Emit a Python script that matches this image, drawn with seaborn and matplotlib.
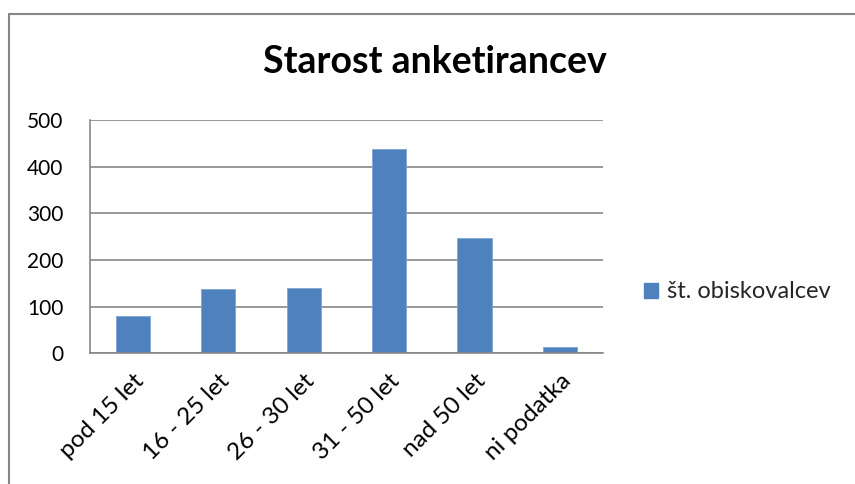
import matplotlib
matplotlib.use("Agg")
import matplotlib.pyplot as plt
import seaborn as sns
import pandas as pd
from matplotlib.lines import Line2D
from matplotlib.patches import Patch

# data
categories = ["pod 15 let", "16 - 25 let", "26 - 30 let", "31 - 50 let", "nad 50 let", "ni podatka"]
visitors = [80, 138, 140, 437, 247, 13]
series_name = "št. obiskovalcev"

df = pd.DataFrame({"starost": categories, "obiskovalci": visitors})

sns.set_style("white")
plt.rcParams["font.family"] = ["Lato", "DejaVu Sans"]

bar_color = "#4F81BD"
grid_color = "#878787"

fig = plt.figure(figsize=(8.55, 4.84), dpi=100)
ax = fig.add_axes([90 / 855, 1 - 353.3 / 484, (602.7 - 90) / 855, (353.3 - 120) / 484])

sns.barplot(data=df, x="starost", y="obiskovalci", color=bar_color,
            width=0.4, saturation=1, ax=ax, edgecolor="#7FA5D6", linewidth=0.6)

ax.set_xlim(-0.5, len(categories) - 0.5)
ax.set_ylim(0, 500)
ax.set_yticks(range(0, 501, 100))
ax.set_xlabel("")
ax.set_ylabel("")

# gridlines + axes look
ax.grid(axis="y", color=grid_color, linewidth=1.2)
ax.set_axisbelow(True)
for s in ["top", "right"]:
    ax.spines[s].set_visible(False)
for s in ["left", "bottom"]:
    ax.spines[s].set_color(grid_color)
    ax.spines[s].set_linewidth(1.2)

# tick marks between categories
ax.set_xticks([i - 0.5 for i in range(len(categories) + 1)], minor=True)
ax.tick_params(axis="x", which="major", length=0, pad=12)
ax.tick_params(axis="x", which="minor", length=6, width=1.2, color=grid_color, direction="out")
ax.tick_params(axis="y", length=6, width=1.2, color=grid_color, direction="out", pad=13,
               labelsize=15, labelcolor="black")
ax.set_xticks(range(len(categories)))
ax.set_xticklabels(categories, rotation=45, ha="right", rotation_mode="anchor",
                   fontsize=17.5, color="black")

fig.text(435 / 855, 1 - 62 / 484, "Starost anketirancev", ha="center", va="center",
         fontsize=27, fontweight="bold", color="black")

handles = [Patch(facecolor=bar_color, edgecolor=bar_color, label=series_name)]
fig.legend(handles=handles, loc="center left", bbox_to_anchor=(623 / 855, 1 - 292 / 484),
           frameon=False, fontsize=17, handlelength=0.6, handleheight=0.6,
           handletextpad=0.35)

# outer chart frame (cut off at right and bottom)
fig.add_artist(Line2D([9 / 855, 9 / 855], [0, 1 - 14 / 484], color=grid_color, linewidth=1.5))
fig.add_artist(Line2D([9 / 855, 1], [1 - 14 / 484, 1 - 14 / 484], color=grid_color, linewidth=1.5))

fig.savefig("out.png", dpi=100)
